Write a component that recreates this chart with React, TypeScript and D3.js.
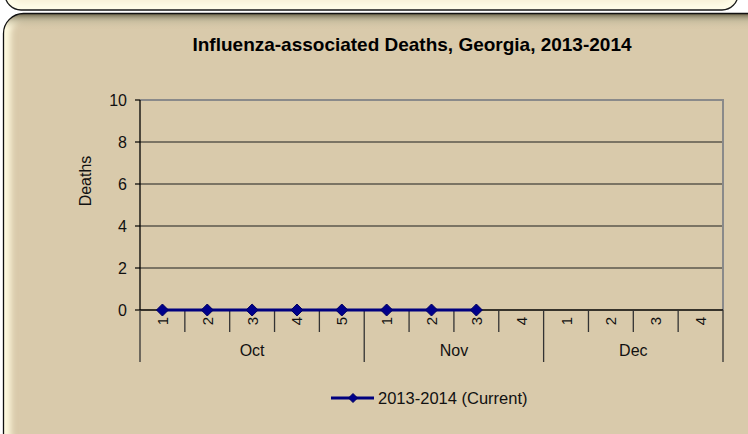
import React from "react";
import * as d3 from "d3";

const months = ["Oct", "Nov", "Dec"];
const weeksPerMonth = [5, 4, 4];
const seriesName = "2013-2014 (Current)";
const deaths = [0, 0, 0, 0, 0, 0, 0, 0];
const yTicks = [0, 2, 4, 6, 8, 10];

const W = 748;
const H = 434;
const plot = { left: 140, right: 723, top: 100, bottom: 310 };

export default function App() {
  const cats: { month: string; week: number; key: string }[] = [];
  months.forEach((m, mi) => {
    for (let w = 1; w <= weeksPerMonth[mi]; w++) cats.push({ month: m, week: w, key: `${m}-${w}` });
  });
  const x = d3.scaleBand().domain(cats.map((c) => c.key)).range([plot.left, plot.right]).padding(0);
  const y = d3.scaleLinear().domain([0, 10]).range([plot.bottom, plot.top]);
  const bw = x.bandwidth();
  const pts = deaths.map((v, i) => [x(cats[i].key)! + bw / 2, y(v)] as [number, number]);
  const line = d3.line()(pts) || "";
  const diamond = (cx: number, cy: number, r: number) =>
    `M${cx},${cy - r}L${cx + r},${cy}L${cx},${cy + r}L${cx - r},${cy}Z`;

  const monthStarts: number[] = [];
  let acc = 0;
  weeksPerMonth.forEach((n) => {
    monthStarts.push(acc);
    acc += n;
  });
  const boundaries = d3.range(0, cats.length + 1);
  const isMonthBoundary = (i: number) => i === 0 || i === cats.length || monthStarts.includes(i);

  const font = "Arial, 'Liberation Sans', sans-serif";
  return (
    <svg width={W} height={H} style={{ position: "absolute", left: 0, top: 0 }} fontFamily={font}>
      <defs>
        <clipPath id="mainClip">
          <rect x={3.5} y={13.5} width={780} height={440} rx={20} />
        </clipPath>
        <clipPath id="topClip">
          <rect x={5} y={-40} width={733} height={50} rx={16} />
        </clipPath>
        <filter id="blur" x="-10%" y="-10%" width="120%" height="120%">
          <feGaussianBlur stdDeviation={3} />
        </filter>
        <linearGradient id="topShade" x1="0" y1="0" x2="0" y2="1">
          <stop offset="0" stopColor="#5a5238" stopOpacity={0.9} />
          <stop offset="0.5" stopColor="#9a8f70" stopOpacity={0.4} />
          <stop offset="1" stopColor="#d9caab" stopOpacity={0} />
        </linearGradient>
      </defs>
      <rect x={0} y={0} width={W} height={H} fill="#ffffff" />
      {/* top panel remnant */}
      <g clipPath="url(#topClip)">
        <rect x={5} y={-40} width={733} height={50} fill="#f7f0d6" />
        <rect x={5} y={-40} width={733} height={50} rx={16} fill="none" stroke="#fffde8" strokeWidth={14} filter="url(#blur)" />
      </g>
      <rect x={5} y={-40} width={733} height={50} rx={16} fill="none" stroke="#1a1a1a" strokeWidth={1.3} />
      {/* main panel */}
      <g clipPath="url(#mainClip)">
        <rect x={3.5} y={13.5} width={780} height={440} fill="#d9caab" />
        <rect x={3.5} y={13.5} width={780} height={440} rx={20} fill="none" stroke="#fffbe0" strokeWidth={14} filter="url(#blur)" />
        <rect x={3.5} y={13.5} width={780} height={16} fill="url(#topShade)" />
      </g>
      <rect x={3.5} y={13.5} width={780} height={440} rx={20} fill="none" stroke="#111" strokeWidth={1.3} />

      {/* title */}
      <text x={412} y={51} textAnchor="middle" fontSize={18.5} fontWeight="bold" fill="#000" textLength={439} lengthAdjust="spacingAndGlyphs">
        Influenza-associated Deaths, Georgia, 2013-2014
      </text>

      {/* gridlines */}
      {yTicks.filter((t) => t > 0 && t < 10).map((t) => (
        <line key={t} x1={plot.left} x2={plot.right} y1={y(t)} y2={y(t)} stroke="#1e1e1e" strokeWidth={1.2} />
      ))}
      {/* plot border top/right */}
      <line x1={plot.left} x2={plot.right + 1} y1={plot.top} y2={plot.top} stroke="#8a8a8a" strokeWidth={2} />
      <line x1={plot.right} x2={plot.right} y1={plot.top} y2={plot.bottom} stroke="#8a8a8a" strokeWidth={2} />

      {/* y axis */}
      <line x1={plot.left} x2={plot.left} y1={plot.top} y2={plot.bottom} stroke="#000" strokeWidth={1.3} />
      {yTicks.map((t) => (
        <g key={t}>
          <line x1={plot.left - 5} x2={plot.left} y1={y(t)} y2={y(t)} stroke="#000" strokeWidth={1.2} />
          <text x={127} y={y(t) + 6} textAnchor="end" fontSize={16} fill="#111">
            {t}
          </text>
        </g>
      ))}
      <text transform={`translate(91,181) rotate(-90)`} textAnchor="middle" fontSize={16} fill="#111">
        Deaths
      </text>

      {/* x axis */}
      <line x1={plot.left} x2={plot.right} y1={plot.bottom} y2={plot.bottom} stroke="#000" strokeWidth={1.3} />
      {boundaries.map((i) => {
        const bx = i < cats.length ? x(cats[i].key)! : plot.right;
        return (
          <line key={i} x1={bx} x2={bx} y1={plot.bottom} y2={isMonthBoundary(i) ? 362 : 332} stroke="#333" strokeWidth={1.3} />
        );
      })}
      {cats.map((c) => (
        <text key={c.key} transform={`translate(${x(c.key)! + bw / 2 + 5.5},321) rotate(-90)`} textAnchor="middle" fontSize={15} fill="#111">
          {c.week}
        </text>
      ))}
      {months.map((m, mi) => {
        const x0 = x(cats[monthStarts[mi]].key)!;
        const x1 = x0 + weeksPerMonth[mi] * bw;
        return (
          <text key={m} x={(x0 + x1) / 2} y={356} textAnchor="middle" fontSize={16} fill="#111">
            {m}
          </text>
        );
      })}

      {/* series */}
      <path d={line} fill="none" stroke="#00007f" strokeWidth={3} />
      {pts.map((p, i) => (
        <path key={i} d={diamond(p[0], p[1], 6)} fill="#00008b" stroke="#000060" strokeWidth={1} />
      ))}

      {/* legend */}
      <line x1={331} x2={374} y1={398} y2={398} stroke="#00007f" strokeWidth={3} />
      <path d={diamond(353, 398, 4.5)} fill="#00008b" stroke="#000060" strokeWidth={1} />
      <text x={378} y={404} fontSize={16.5} fill="#111">
        {seriesName}
      </text>
    </svg>
  );
}
